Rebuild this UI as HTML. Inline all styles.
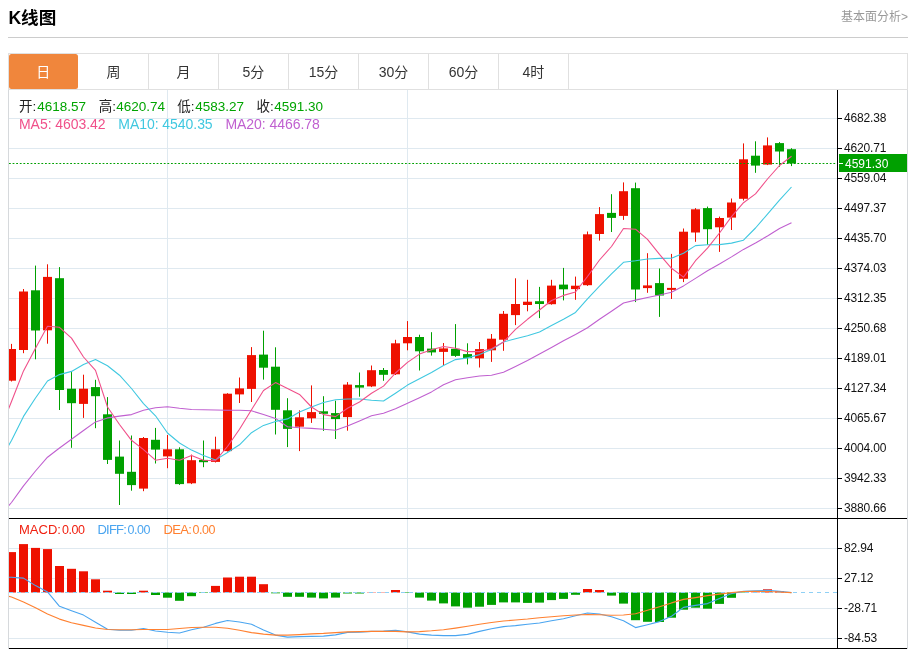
<!DOCTYPE html>
<html lang="zh"><head><meta charset="utf-8"><title>K线图</title>
<style>
html,body{margin:0;padding:0;background:#fff}
body{width:913px;height:649px;position:relative;overflow:hidden;font-family:"Liberation Sans","Noto Sans CJK SC",sans-serif;color:#333}
.h{position:absolute;left:8.4px;top:5.6px;font-size:17.6px;font-weight:bold;color:#000;line-height:24px}
.more{position:absolute;right:5px;top:8.5px;font-size:12px;color:#999;line-height:16px}
.hl{position:absolute;left:8px;top:37px;width:900px;height:1px;background:#ccc}
.tabs{position:absolute;left:8px;top:53px;width:898px;height:35px;border:1px solid #e0e0e0;display:flex}
.tab{width:69px;height:35px;border-right:1px solid #e0e0e0;text-align:center;line-height:37px;font-size:14px;color:#333}
.tab.on{background:#f0863c;color:#fff;border-radius:2.5px;border-right-color:transparent;width:68.3px;margin-right:0.7px}
.t{position:absolute;white-space:nowrap;line-height:16px;font-size:14px}
.k{color:#222;font-size:13.5px}
.v{color:#00a400;font-size:13.5px}
.m{font-size:14px;letter-spacing:-0.05px}
.d{font-size:13px}
.e{font-size:12.5px;letter-spacing:-0.5px}
</style></head><body>
<div class="h">K线图</div>
<div class="more">基本面分析&gt;</div>
<div class="hl"></div>
<div class="tabs"><div class="tab on">日</div><div class="tab">周</div><div class="tab">月</div><div class="tab">5分</div><div class="tab">15分</div><div class="tab">30分</div><div class="tab">60分</div><div class="tab">4时</div></div>
<svg width="913" height="559" viewBox="0 90 913 559" style="position:absolute;left:0;top:90px" shape-rendering="auto"><defs><clipPath id="cp"><rect x="9" y="90" width="828" height="559"/></clipPath></defs><path d="M9 118.5H837M9 148.5H837M9 178.5H837M9 208.5H837M9 238.5H837M9 268.5H837M9 298.5H837M9 328.5H837M9 358.5H837M9 388.5H837M9 418.5H837M9 448.5H837M9 478.5H837M9 508.5H837M9 548.5H837M9 578.5H837M9 608.5H837M9 638.5H837M167.5 90V518M167.5 519V648M407.5 90V518M407.5 519V648" stroke="#dfe9f0" stroke-width="1" fill="none" shape-rendering="crispEdges"/><path d="M8.5 90V649M907.5 90V649" stroke="#d6d9dc" stroke-width="1" fill="none" shape-rendering="crispEdges"/><g clip-path="url(#cp)"><path d="M11.5 343.9V381.5" stroke="#ee1100" stroke-width="1"/><rect x="7" y="349" width="9" height="31.7" fill="#ee1100"/><path d="M23.5 289V353.2" stroke="#ee1100" stroke-width="1"/><rect x="19" y="291.5" width="9" height="58.5" fill="#ee1100"/><path d="M35.5 265.6V359.3" stroke="#00a000" stroke-width="1"/><rect x="31" y="290.3" width="9" height="40.2" fill="#00a000"/><path d="M47.5 264.3V343.7" stroke="#ee1100" stroke-width="1"/><rect x="43" y="276.9" width="9" height="53.4" fill="#ee1100"/><path d="M59.5 267.1V410" stroke="#00a000" stroke-width="1"/><rect x="55" y="278.2" width="9" height="111.8" fill="#00a000"/><path d="M71.5 372.1V447.8" stroke="#00a000" stroke-width="1"/><rect x="67" y="388.7" width="9" height="14.5" fill="#00a000"/><path d="M83.5 374.7V417.9" stroke="#ee1100" stroke-width="1"/><rect x="79" y="388.7" width="9" height="15.2" fill="#ee1100"/><path d="M95.5 379.8V428.2" stroke="#00a000" stroke-width="1"/><rect x="91" y="387.1" width="9" height="9.1" fill="#00a000"/><path d="M107.5 397.1V464" stroke="#00a000" stroke-width="1"/><rect x="103" y="414.3" width="9" height="45.6" fill="#00a000"/><path d="M119.5 440.5V505" stroke="#00a000" stroke-width="1"/><rect x="115" y="456.6" width="9" height="17.2" fill="#00a000"/><path d="M131.5 435.5V490.7" stroke="#00a000" stroke-width="1"/><rect x="127" y="471.8" width="9" height="13.3" fill="#00a000"/><path d="M143.5 437V491.2" stroke="#ee1100" stroke-width="1"/><rect x="139" y="438" width="9" height="50.6" fill="#ee1100"/><path d="M155.5 427.9V463.5" stroke="#00a000" stroke-width="1"/><rect x="151" y="439.8" width="9" height="9.8" fill="#00a000"/><path d="M167.5 435V468.2" stroke="#ee1100" stroke-width="1"/><rect x="163" y="449.3" width="9" height="7.1" fill="#ee1100"/><path d="M179.5 447.3V484.9" stroke="#00a000" stroke-width="1"/><rect x="175" y="449.3" width="9" height="34.8" fill="#00a000"/><path d="M191.5 454.6V484.1" stroke="#ee1100" stroke-width="1"/><rect x="187" y="460.2" width="9" height="23.1" fill="#ee1100"/><path d="M203.5 440.5V467.2" stroke="#00a000" stroke-width="1"/><rect x="199" y="459.9" width="9" height="2.3" fill="#00a000"/><path d="M215.5 436.7V462.5" stroke="#ee1100" stroke-width="1"/><rect x="211" y="449.3" width="9" height="12.6" fill="#ee1100"/><path d="M227.5 393.2V451.6" stroke="#ee1100" stroke-width="1"/><rect x="223" y="393.7" width="9" height="57.4" fill="#ee1100"/><path d="M239.5 377.5V403" stroke="#ee1100" stroke-width="1"/><rect x="235" y="388.4" width="9" height="6" fill="#ee1100"/><path d="M251.5 347.1V402" stroke="#ee1100" stroke-width="1"/><rect x="247" y="355.1" width="9" height="33.8" fill="#ee1100"/><path d="M263.5 330.7V379.6" stroke="#00a000" stroke-width="1"/><rect x="259" y="354.6" width="9" height="13.1" fill="#00a000"/><path d="M275.5 347.3V434.5" stroke="#00a000" stroke-width="1"/><rect x="271" y="366.7" width="9" height="43.1" fill="#00a000"/><path d="M287.5 398.2V447.1" stroke="#00a000" stroke-width="1"/><rect x="283" y="410.3" width="9" height="18.6" fill="#00a000"/><path d="M299.5 410.3V451.1" stroke="#ee1100" stroke-width="1"/><rect x="295" y="417.3" width="9" height="9.4" fill="#ee1100"/><path d="M311.5 385.4V422.9" stroke="#ee1100" stroke-width="1"/><rect x="307" y="412.1" width="9" height="6.2" fill="#ee1100"/><path d="M323.5 396.2V430.9" stroke="#00a000" stroke-width="1"/><rect x="319" y="411.3" width="9" height="2.5" fill="#00a000"/><path d="M335.5 400.7V439" stroke="#00a000" stroke-width="1"/><rect x="331" y="413.1" width="9" height="6" fill="#00a000"/><path d="M347.5 382.1V430.7" stroke="#ee1100" stroke-width="1"/><rect x="343" y="384.6" width="9" height="32.5" fill="#ee1100"/><path d="M359.5 372.5V396.7" stroke="#00a000" stroke-width="1"/><rect x="355" y="385.1" width="9" height="2.5" fill="#00a000"/><path d="M371.5 365.5V387.1" stroke="#ee1100" stroke-width="1"/><rect x="367" y="370.2" width="9" height="16.2" fill="#ee1100"/><path d="M383.5 368V380.8" stroke="#00a000" stroke-width="1"/><rect x="379" y="370" width="9" height="4.8" fill="#00a000"/><path d="M395.5 339.8V375" stroke="#ee1100" stroke-width="1"/><rect x="391" y="343.3" width="9" height="31" fill="#ee1100"/><path d="M407.5 321.1V350.3" stroke="#ee1100" stroke-width="1"/><rect x="403" y="337" width="9" height="6.3" fill="#ee1100"/><path d="M419.5 334.7V370.5" stroke="#00a000" stroke-width="1"/><rect x="415" y="337" width="9" height="14.3" fill="#00a000"/><path d="M431.5 332.2V355.6" stroke="#00a000" stroke-width="1"/><rect x="427" y="348.6" width="9" height="3.8" fill="#00a000"/><path d="M443.5 343V365.6" stroke="#ee1100" stroke-width="1"/><rect x="439" y="348.4" width="9" height="3.5" fill="#ee1100"/><path d="M455.5 324.1V356.9" stroke="#00a000" stroke-width="1"/><rect x="451" y="348.8" width="9" height="7.1" fill="#00a000"/><path d="M467.5 343.3V364.4" stroke="#00a000" stroke-width="1"/><rect x="463" y="354.1" width="9" height="4" fill="#00a000"/><path d="M479.5 342V367.5" stroke="#ee1100" stroke-width="1"/><rect x="475" y="349.1" width="9" height="9.3" fill="#ee1100"/><path d="M491.5 334V361.9" stroke="#ee1100" stroke-width="1"/><rect x="487" y="338.7" width="9" height="11.6" fill="#ee1100"/><path d="M503.5 311V350.8" stroke="#ee1100" stroke-width="1"/><rect x="499" y="313.8" width="9" height="25.9" fill="#ee1100"/><path d="M515.5 278.3V325.1" stroke="#ee1100" stroke-width="1"/><rect x="511" y="304" width="9" height="11.1" fill="#ee1100"/><path d="M527.5 279.8V311.3" stroke="#ee1100" stroke-width="1"/><rect x="523" y="301.7" width="9" height="3.3" fill="#ee1100"/><path d="M539.5 286.9V318.1" stroke="#00a000" stroke-width="1"/><rect x="535" y="301.2" width="9" height="2.8" fill="#00a000"/><path d="M551.5 279.8V304.7" stroke="#ee1100" stroke-width="1"/><rect x="547" y="285.6" width="9" height="18.6" fill="#ee1100"/><path d="M563.5 267.9V300.4" stroke="#00a000" stroke-width="1"/><rect x="559" y="284.6" width="9" height="4.7" fill="#00a000"/><path d="M575.5 276.6V299.8" stroke="#ee1100" stroke-width="1"/><rect x="571" y="285.7" width="9" height="3.4" fill="#ee1100"/><path d="M587.5 231.5V285.9" stroke="#ee1100" stroke-width="1"/><rect x="583" y="234.3" width="9" height="50.9" fill="#ee1100"/><path d="M599.5 207.1V240.6" stroke="#ee1100" stroke-width="1"/><rect x="595" y="214.1" width="9" height="19.9" fill="#ee1100"/><path d="M611.5 194.2V232" stroke="#00a000" stroke-width="1"/><rect x="607" y="212.9" width="9" height="5" fill="#00a000"/><path d="M623.5 182.4V219.9" stroke="#ee1100" stroke-width="1"/><rect x="619" y="191.2" width="9" height="24.7" fill="#ee1100"/><path d="M635.5 182.6V302.1" stroke="#00a000" stroke-width="1"/><rect x="631" y="188.2" width="9" height="101.3" fill="#00a000"/><path d="M647.5 253.2V292.8" stroke="#ee1100" stroke-width="1"/><rect x="643" y="285.4" width="9" height="2.7" fill="#ee1100"/><path d="M659.5 268.5V316.9" stroke="#00a000" stroke-width="1"/><rect x="655" y="283.1" width="9" height="12.4" fill="#00a000"/><path d="M671.5 253.9V299" stroke="#ee1100" stroke-width="1"/><rect x="667" y="287.9" width="9" height="2" fill="#ee1100"/><path d="M683.5 228.5V282.1" stroke="#ee1100" stroke-width="1"/><rect x="679" y="231.7" width="9" height="47.1" fill="#ee1100"/><path d="M695.5 208.1V241.8" stroke="#ee1100" stroke-width="1"/><rect x="691" y="209.3" width="9" height="23.2" fill="#ee1100"/><path d="M707.5 206.6V244.8" stroke="#00a000" stroke-width="1"/><rect x="703" y="208.1" width="9" height="21.1" fill="#00a000"/><path d="M719.5 216.6V251.9" stroke="#ee1100" stroke-width="1"/><rect x="715" y="218" width="9" height="9.3" fill="#ee1100"/><path d="M731.5 198.5V230" stroke="#ee1100" stroke-width="1"/><rect x="727" y="202.5" width="9" height="15.1" fill="#ee1100"/><path d="M743.5 143.4V200.5" stroke="#ee1100" stroke-width="1"/><rect x="739" y="159.3" width="9" height="39.5" fill="#ee1100"/><path d="M755.5 141.3V172.8" stroke="#00a000" stroke-width="1"/><rect x="751" y="155.7" width="9" height="9.9" fill="#00a000"/><path d="M767.5 137.4V165.1" stroke="#ee1100" stroke-width="1"/><rect x="763" y="145.4" width="9" height="19.2" fill="#ee1100"/><path d="M779.5 142.1V166.8" stroke="#00a000" stroke-width="1"/><rect x="775" y="143.1" width="9" height="8.4" fill="#00a000"/><path d="M791.5 148.2V166.1" stroke="#00a000" stroke-width="1"/><rect x="787" y="149.2" width="9" height="14.3" fill="#00a000"/><rect x="7" y="552.1" width="9" height="40.4" fill="#ee1100"/><rect x="19" y="544.1" width="9" height="48.4" fill="#ee1100"/><rect x="31" y="547.9" width="9" height="44.6" fill="#ee1100"/><rect x="43" y="549.1" width="9" height="43.4" fill="#ee1100"/><rect x="55" y="566" width="9" height="26.5" fill="#ee1100"/><rect x="67" y="568.8" width="9" height="23.7" fill="#ee1100"/><rect x="79" y="571.3" width="9" height="21.2" fill="#ee1100"/><rect x="91" y="579.3" width="9" height="13.2" fill="#ee1100"/><rect x="103" y="590.7" width="9" height="1.8" fill="#ee1100"/><rect x="115" y="592.5" width="9" height="1.5" fill="#00a000"/><rect x="127" y="592.5" width="9" height="1.5" fill="#00a000"/><rect x="139" y="590.7" width="9" height="1.8" fill="#ee1100"/><rect x="151" y="592.5" width="9" height="2.5" fill="#00a000"/><rect x="163" y="592.5" width="9" height="5.2" fill="#00a000"/><rect x="175" y="592.5" width="9" height="8.3" fill="#00a000"/><rect x="187" y="592.5" width="9" height="3.7" fill="#00a000"/><rect x="199" y="592.5" width="9" height="0.5" fill="#00a000"/><rect x="211" y="585.9" width="9" height="6.6" fill="#ee1100"/><rect x="223" y="577.5" width="9" height="15" fill="#ee1100"/><rect x="235" y="576.7" width="9" height="15.8" fill="#ee1100"/><rect x="247" y="576.7" width="9" height="15.8" fill="#ee1100"/><rect x="259" y="584.2" width="9" height="8.3" fill="#ee1100"/><rect x="271" y="592.5" width="9" height="0.8" fill="#00a000"/><rect x="283" y="592.5" width="9" height="4.3" fill="#00a000"/><rect x="295" y="592.5" width="9" height="4.3" fill="#00a000"/><rect x="307" y="592.5" width="9" height="5.1" fill="#00a000"/><rect x="319" y="592.5" width="9" height="5.9" fill="#00a000"/><rect x="331" y="592.5" width="9" height="5.1" fill="#00a000"/><rect x="343" y="592.5" width="9" height="1" fill="#00a000"/><rect x="355" y="592.5" width="9" height="1" fill="#00a000"/><rect x="367" y="592.2" width="9" height="0.3" fill="#ee1100"/><rect x="379" y="592.2" width="9" height="0.3" fill="#ee1100"/><rect x="391" y="590" width="9" height="2.5" fill="#ee1100"/><rect x="403" y="592.5" width="9" height="0.5" fill="#00a000"/><rect x="415" y="592.5" width="9" height="5.1" fill="#00a000"/><rect x="427" y="592.5" width="9" height="8.1" fill="#00a000"/><rect x="439" y="592.5" width="9" height="10.9" fill="#00a000"/><rect x="451" y="592.5" width="9" height="13.9" fill="#00a000"/><rect x="463" y="592.5" width="9" height="15.2" fill="#00a000"/><rect x="475" y="592.5" width="9" height="14.2" fill="#00a000"/><rect x="487" y="592.5" width="9" height="12.4" fill="#00a000"/><rect x="499" y="592.5" width="9" height="9.9" fill="#00a000"/><rect x="511" y="592.5" width="9" height="9.9" fill="#00a000"/><rect x="523" y="592.5" width="9" height="10.4" fill="#00a000"/><rect x="535" y="592.5" width="9" height="10.1" fill="#00a000"/><rect x="547" y="592.5" width="9" height="7.6" fill="#00a000"/><rect x="559" y="592.5" width="9" height="6.4" fill="#00a000"/><rect x="571" y="592.5" width="9" height="2.3" fill="#00a000"/><rect x="583" y="589" width="9" height="3.5" fill="#ee1100"/><rect x="595" y="590" width="9" height="2.5" fill="#ee1100"/><rect x="607" y="592.5" width="9" height="3.1" fill="#00a000"/><rect x="619" y="592.5" width="9" height="11.1" fill="#00a000"/><rect x="631" y="592.5" width="9" height="27.7" fill="#00a000"/><rect x="643" y="592.5" width="9" height="29.3" fill="#00a000"/><rect x="655" y="592.5" width="9" height="29.5" fill="#00a000"/><rect x="667" y="592.5" width="9" height="25.2" fill="#00a000"/><rect x="679" y="592.5" width="9" height="17.2" fill="#00a000"/><rect x="691" y="592.5" width="9" height="15.2" fill="#00a000"/><rect x="703" y="592.5" width="9" height="16.2" fill="#00a000"/><rect x="715" y="592.5" width="9" height="11.4" fill="#00a000"/><rect x="727" y="592.5" width="9" height="5.3" fill="#00a000"/><rect x="739" y="592.5" width="9" height="0.4" fill="#00a000"/><rect x="751" y="592.2" width="9" height="0.3" fill="#ee1100"/><rect x="763" y="589.3" width="9" height="3.2" fill="#ee1100"/><rect x="775" y="591.3" width="9" height="1.2" fill="#ee1100"/><path d="M9 592.5H837" stroke="#8fd0f5" stroke-width="1" stroke-dasharray="4 4" fill="none"/><polyline points="-0.5,516 11.5,502.5 23.5,485.9 35.5,471 47.5,457.2 59.5,448 71.5,439.3 83.5,430.5 95.5,421.9 107.5,417.9 119.5,416.1 131.5,414.6 143.5,410.3 155.5,407.8 167.5,406.8 179.5,408.3 191.5,409.5 203.5,409.8 215.5,410 227.5,410.2 239.5,410.3 251.5,410.8 263.5,414.6 275.5,418.4 287.5,426.7 299.5,427.7 311.5,428.4 323.5,429.2 335.5,430.2 347.5,425.9 359.5,420.9 371.5,415.8 383.5,413.3 395.5,408.8 407.5,403.2 419.5,397.7 431.5,391.9 443.5,384.7 455.5,379.8 467.5,377.8 479.5,376 491.5,375.3 503.5,372.2 515.5,366.5 527.5,360.5 539.5,354.1 551.5,347.6 563.5,340.8 575.5,334.5 587.5,327.8 599.5,319.3 611.5,311.3 623.5,303 635.5,300.1 647.5,297.5 659.5,295 671.5,292.2 683.5,285.9 695.5,278.4 707.5,270.8 719.5,264 731.5,256.9 743.5,249.4 755.5,242.9 767.5,236 779.5,228.5 791.5,222.8" fill="none" stroke="#c060d0" stroke-width="1.1" stroke-linejoin="round"/><polyline points="-0.5,462 11.5,440.5 23.5,416.4 35.5,398 47.5,381 59.5,374.6 71.5,371.4 83.5,364.6 95.5,359.5 107.5,365.8 119.5,375.2 131.5,388.5 143.5,403.6 155.5,415.8 167.5,433 179.5,443 191.5,450.1 203.5,455.6 215.5,459.9 227.5,452.5 239.5,444.8 251.5,432.7 263.5,425.4 275.5,421.4 287.5,418.9 299.5,412 311.5,407 323.5,402.5 335.5,399.7 347.5,399 359.5,399 371.5,400.2 383.5,401 395.5,393.2 407.5,385.1 419.5,378.8 431.5,372.5 443.5,365.5 455.5,359.6 467.5,357.9 479.5,354.6 491.5,349.6 503.5,342 515.5,338.7 527.5,335.7 539.5,331.9 551.5,325.6 563.5,319.3 575.5,312.4 587.5,298.8 599.5,286.2 611.5,273.9 623.5,262.3 635.5,260.8 647.5,259 659.5,258.4 671.5,258.2 683.5,253.2 695.5,245.6 707.5,244.8 719.5,244.6 731.5,243.1 743.5,240.2 755.5,228 767.5,214.1 779.5,200.2 791.5,187" fill="none" stroke="#40c8e0" stroke-width="1.1" stroke-linejoin="round"/><polyline points="-0.5,432 11.5,401.5 23.5,370.9 35.5,348.2 47.5,326.3 59.5,327.3 71.5,338.1 83.5,357 95.5,370.4 107.5,407 119.5,424.5 131.5,440.3 143.5,449.6 155.5,460.2 167.5,458.2 179.5,460.2 191.5,455.6 203.5,460.2 215.5,460.7 227.5,446.5 239.5,429.3 251.5,409.8 263.5,390.5 275.5,382.6 287.5,388.6 299.5,394.4 311.5,407 323.5,414.6 335.5,416.6 347.5,408.3 359.5,402 371.5,393.2 383.5,386.1 395.5,373 407.5,362.4 419.5,354.1 431.5,349.8 443.5,346.5 455.5,348.3 467.5,351.6 479.5,351.6 491.5,348.8 503.5,342 515.5,329.4 527.5,319.3 539.5,310 551.5,300.5 563.5,295.4 575.5,292 587.5,276.5 599.5,260 611.5,246.5 623.5,228.5 635.5,229.2 647.5,239.3 659.5,254.4 671.5,268.3 683.5,277.1 695.5,260.7 707.5,248.1 719.5,233 731.5,216.6 743.5,202.7 755.5,193.9 767.5,179 779.5,165.5 791.5,156.3" fill="none" stroke="#f0508a" stroke-width="1.1" stroke-linejoin="round"/><polyline points="-0.5,577 11.5,577.3 23.5,578.1 35.5,585.6 47.5,591.9 59.5,606.3 71.5,610.8 83.5,615.1 95.5,622.2 107.5,629.2 119.5,630.2 131.5,630.2 143.5,628.5 155.5,631 167.5,632.2 179.5,633 191.5,629.7 203.5,627.2 215.5,623.4 227.5,620.5 239.5,622 251.5,624.3 263.5,630.1 275.5,635.1 287.5,637.1 299.5,636.6 311.5,636.4 323.5,636.1 335.5,634.9 347.5,632.4 359.5,632.1 371.5,631.4 383.5,631.1 395.5,630.3 407.5,631.9 419.5,634.1 431.5,635.1 443.5,635.6 455.5,635.6 467.5,634.4 479.5,631.4 491.5,628.8 503.5,626.6 515.5,625.6 527.5,624.3 539.5,623 551.5,620.8 563.5,618.8 575.5,615.7 587.5,613 599.5,614 611.5,616.7 623.5,620.8 635.5,627.6 647.5,624.7 659.5,621.6 671.5,616.2 683.5,607.4 695.5,605.4 707.5,603.6 719.5,598.6 731.5,593.6 743.5,591.3 755.5,590.8 767.5,590.3 779.5,591.3 791.5,592.6" fill="none" stroke="#4aa5f0" stroke-width="1.1" stroke-linejoin="round"/><polyline points="-0.5,594 11.5,597 23.5,602 35.5,607.8 47.5,613.9 59.5,619.1 71.5,622.7 83.5,625.4 95.5,628 107.5,629.5 119.5,629.7 131.5,629.7 143.5,629.5 155.5,629.5 167.5,629.5 179.5,628.5 191.5,627.5 203.5,627.2 215.5,627.2 227.5,628.2 239.5,630.3 251.5,632.6 263.5,634.1 275.5,635.1 287.5,635.1 299.5,634.6 311.5,633.9 323.5,633.4 335.5,632.6 347.5,631.9 359.5,631.6 371.5,631.4 383.5,631.4 395.5,631.4 407.5,631.9 419.5,631.6 431.5,630.8 443.5,629.7 455.5,628.1 467.5,626.3 479.5,624.3 491.5,622.5 503.5,621 515.5,620 527.5,619 539.5,617.7 551.5,616.7 563.5,615.7 575.5,615 587.5,614.5 599.5,614.7 611.5,615.2 623.5,615 635.5,613.7 647.5,610.3 659.5,606.7 671.5,602.9 683.5,599.4 695.5,597.6 707.5,595.6 719.5,594.1 731.5,592.6 743.5,591.5 755.5,591.3 767.5,591.5 779.5,592 791.5,592.6" fill="none" stroke="#ff8030" stroke-width="1.1" stroke-linejoin="round"/></g><path d="M9 163.5H837" stroke="#00a000" stroke-width="1" stroke-dasharray="1.8 1.8" fill="none"/><path d="M837.5 90V649M9 518.5H907M9 648.5H907" stroke="#000" stroke-width="1" fill="none" shape-rendering="crispEdges"/><g font-family="'Liberation Sans',sans-serif" font-size="12" fill="#111" letter-spacing="-0.15"><text x="844" y="122.3">4682.38</text><text x="844" y="152.3">4620.71</text><text x="844" y="182.3">4559.04</text><text x="844" y="212.3">4497.37</text><text x="844" y="242.3">4435.70</text><text x="844" y="272.3">4374.03</text><text x="844" y="302.3">4312.35</text><text x="844" y="332.3">4250.68</text><text x="844" y="362.3">4189.01</text><text x="844" y="392.3">4127.34</text><text x="844" y="422.3">4065.67</text><text x="844" y="452.3">4004.00</text><text x="844" y="482.3">3942.33</text><text x="844" y="512.3">3880.66</text><text x="844" y="552.3">82.94</text><text x="844" y="582.3">27.12</text><text x="844" y="612.3">-28.71</text><text x="844" y="642.3">-84.53</text></g><path d="M838 118.5H842M838 148.5H842M838 178.5H842M838 208.5H842M838 238.5H842M838 268.5H842M838 298.5H842M838 328.5H842M838 358.5H842M838 388.5H842M838 418.5H842M838 448.5H842M838 478.5H842M838 508.5H842M838 548.5H842M838 578.5H842M838 608.5H842M838 638.5H842" stroke="#000" stroke-width="1" fill="none" shape-rendering="crispEdges"/><rect x="839" y="154" width="68" height="18" fill="#00a000"/><path d="M839 163.5H843" stroke="#fff" stroke-width="1" shape-rendering="crispEdges"/><text x="845" y="167.5" font-family="'Liberation Sans',sans-serif" font-size="12" fill="#fff" letter-spacing="0">4591.30</text></svg>
<div class="t k" style="left:19px;top:99px">开:</div><div class="t v" style="left:37.2px;top:99px">4618.57</div>
<div class="t k" style="left:98.7px;top:99px">高:</div><div class="t v" style="left:116.2px;top:99px">4620.74</div>
<div class="t k" style="left:177.2px;top:99px">低:</div><div class="t v" style="left:195.2px;top:99px">4583.27</div>
<div class="t k" style="left:256.4px;top:99px">收:</div><div class="t v" style="left:274.2px;top:99px">4591.30</div>
<div class="t m" style="left:19px;top:116px;color:#f0508a">MA5: 4603.42</div>
<div class="t m" style="left:118.3px;top:116px;color:#40c8e0">MA10: 4540.35</div>
<div class="t m" style="left:225.4px;top:116px;color:#c060d0">MA20: 4466.78</div>
<div class="t d" style="left:19px;top:522px;color:#f02010">MACD:</div><div class="t e" style="left:62px;top:522px;color:#f02010">0.00</div>
<div class="t d" style="left:97.5px;top:522px;color:#4aa5f0;letter-spacing:-0.8px">DIFF:</div><div class="t e" style="left:127.5px;top:522px;color:#4aa5f0">0.00</div>
<div class="t d" style="left:163.5px;top:522px;color:#ff8030;letter-spacing:-0.7px">DEA:</div><div class="t e" style="left:192.5px;top:522px;color:#ff8030">0.00</div>
</body></html>
